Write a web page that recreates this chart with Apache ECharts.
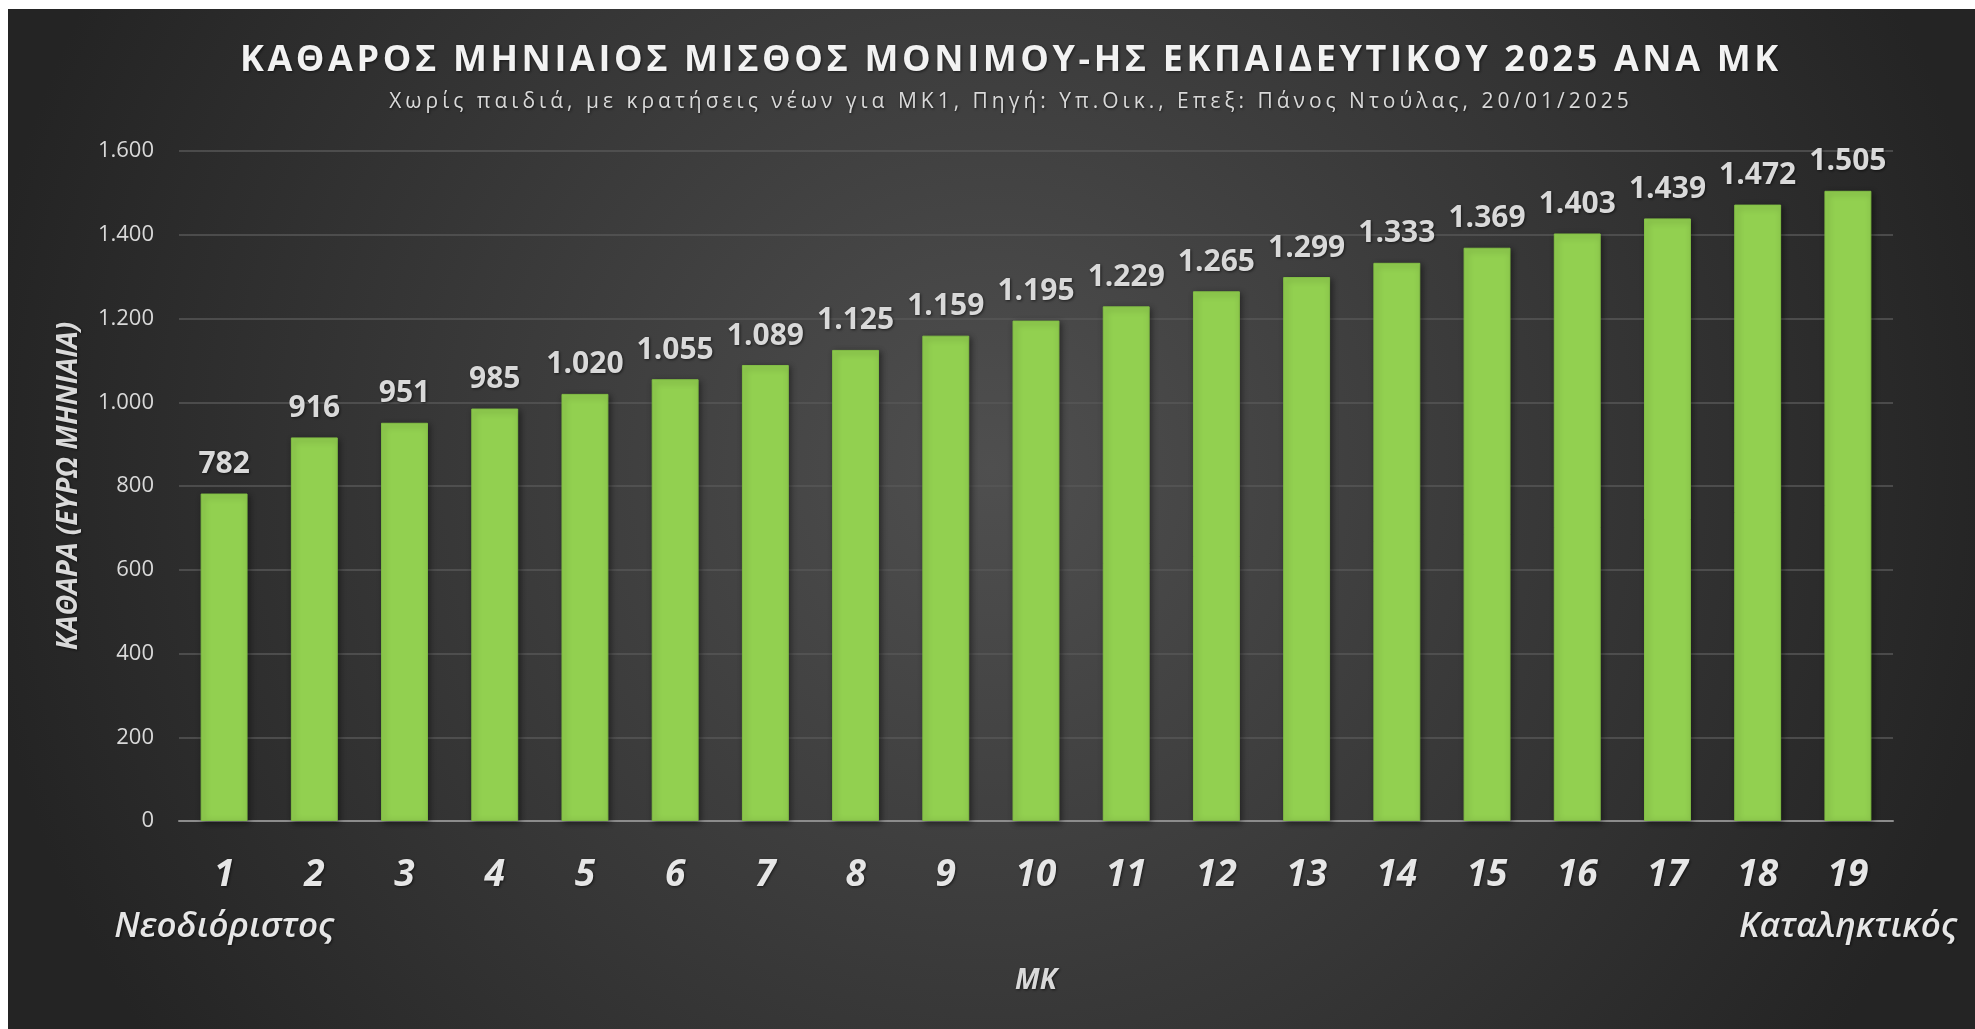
<!DOCTYPE html>
<html>
<head>
<meta charset="utf-8">
<script src="https://cdn.jsdelivr.net/npm/echarts@6/dist/echarts.min.js"></script>
<style>
  html, body { margin: 0; padding: 0; background: #ffffff; }
  #main { width: 1975px; height: 1029px; }
</style>
</head>
<body>
<div id="main"></div>
<script>
var titleText = 'ΚΑΘΑΡΟΣ ΜΗΝΙΑΙΟΣ ΜΙΣΘΟΣ ΜΟΝΙΜΟΥ-ΗΣ ΕΚΠΑΙΔΕΥΤΙΚΟΥ 2025 ΑΝΑ ΜΚ';
var subText = 'Χωρίς παιδιά, με κρατήσεις νέων για ΜΚ1, Πηγή: Υπ.Οικ., Επεξ: Πάνος Ντούλας, 20/01/2025';

// ΜΚ 1..19
var categories = ['1', '2', '3', '4', '5', '6', '7', '8', '9', '10',
  '11', '12', '13', '14', '15', '16', '17', '18', '19'];
var endLabels = { 0: 'Νεοδιόριστος', 18: 'Καταληκτικός' };

// καθαρά ευρώ μηνιαία
var salaries = [782, 916, 951, 985, 1020, 1055, 1089, 1125, 1159, 1195,
  1229, 1265, 1299, 1333, 1369, 1403, 1439, 1472, 1505];

var yMin = 0, yMax = 1600, yStep = 200;

var FONT = '"Open Sans", "DejaVu Sans", sans-serif';

// 1505 -> 1.505
function fmt(v) {
  var s = String(Math.round(v));
  return s.length > 3 ? s.slice(0, -3) + '.' + s.slice(-3) : s;
}

// wrap each char in a rich token so it gets a bit of letter spacing
function spaced(str, key) {
  return str.split('').map(function (c) { return '{' + key + '|' + c + '}'; }).join('');
}

var myChart = echarts.init(document.getElementById('main'));

var shadow = {
  textShadowColor: 'rgba(0,0,0,0.6)',
  textShadowBlur: 3,
  textShadowOffsetX: 1,
  textShadowOffsetY: 1
};

var option = {
  backgroundColor: '#ffffff',
  graphic: [
    {
      type: 'rect',
      left: 8,
      top: 9,
      z: -100,
      silent: true,
      shape: { width: 1967, height: 1020 },
      style: {
        fill: {
          type: 'radial', x: 0.5, y: 0.45, r: 1,
          colorStops: [
            { offset: 0, color: '#4f4f4f' },
            { offset: 1, color: '#242424' }
          ]
        }
      }
    },
    {
      type: 'text',
      x: 1009,
      y: 61,
      silent: true,
      style: {
        text: spaced(titleText, 't'),
        align: 'center',
        verticalAlign: 'middle',
        rich: {
          t: Object.assign({
            fontFamily: FONT, fontSize: 36, fontWeight: 'bold',
            fill: '#f2f2f2', lineHeight: 40, padding: [0, 1.8]
          }, shadow)
        }
      }
    },
    {
      type: 'text',
      x: 1009,
      y: 102,
      silent: true,
      style: {
        text: spaced(subText, 's'),
        align: 'center',
        verticalAlign: 'middle',
        rich: {
          s: Object.assign({
            fontFamily: FONT, fontSize: 21, fontWeight: 'normal',
            fill: '#d9d9d9', lineHeight: 26, padding: [0, 2]
          }, shadow)
        }
      }
    }
  ],
  grid: {
    left: 179,
    right: 82,
    top: 151,
    bottom: 208
  },
  xAxis: {
    type: 'category',
    data: categories,
    name: 'ΜΚ',
    nameLocation: 'middle',
    nameGap: 146,
    nameTextStyle: Object.assign({
      fontFamily: FONT, fontSize: 28, fontWeight: 'bold', fontStyle: 'italic', color: '#d9d9d9'
    }, shadow),
    axisTick: { show: false },
    axisLine: { lineStyle: { color: '#8c8c8c', width: 2 } },
    axisLabel: {
      interval: 0,
      margin: 28,
      hideOverlap: false,
      formatter: function (v, i) {
        var s = '{n|' + v + '}';
        if (endLabels[i]) s += '\n{w|' + endLabels[i] + '}';
        return s;
      },
      rich: {
        n: Object.assign({
          fontFamily: FONT, fontSize: 37, fontWeight: 'bold', fontStyle: 'italic',
          color: '#e6e6e6', lineHeight: 52
        }, shadow),
        w: Object.assign({
          fontFamily: FONT, fontSize: 35, fontWeight: 600, fontStyle: 'italic',
          color: '#e6e6e6', lineHeight: 52
        }, shadow)
      }
    }
  },
  yAxis: {
    type: 'value',
    min: yMin,
    max: yMax,
    interval: yStep,
    name: 'ΚΑΘΑΡΑ (ΕΥΡΩ ΜΗΝΙΑΙΑ)',
    nameLocation: 'middle',
    nameRotate: 90,
    nameGap: 96,
    nameTextStyle: Object.assign({
      fontFamily: FONT, fontSize: 28, fontWeight: 'bold', fontStyle: 'italic', color: '#d9d9d9'
    }, shadow),
    axisLine: { show: false },
    axisTick: { show: false },
    axisLabel: {
      margin: 25,
      fontFamily: FONT,
      fontSize: 22,
      color: '#d9d9d9',
      formatter: fmt
    },
    splitLine: { lineStyle: { color: '#575757', width: 1.5 } }
  },
  series: [
    {
      type: 'bar',
      data: salaries,
      barWidth: '52%',
      itemStyle: {
        color: '#92d050',
        borderColor: '#82bf45',
        borderWidth: 1,
        shadowColor: 'rgba(0,0,0,0.45)',
        shadowBlur: 6,
        shadowOffsetX: 2,
        shadowOffsetY: 2
      },
      label: Object.assign({
        show: true,
        position: 'top',
        distance: 14,
        fontFamily: FONT,
        fontSize: 30,
        fontWeight: 'bold',
        color: '#d9d9d9',
        formatter: function (p) { return fmt(p.value); }
      }, shadow)
    }
  ]
};

if (option && typeof option === 'object') {
  myChart.setOption(option);
}
</script>
</body>
</html>
